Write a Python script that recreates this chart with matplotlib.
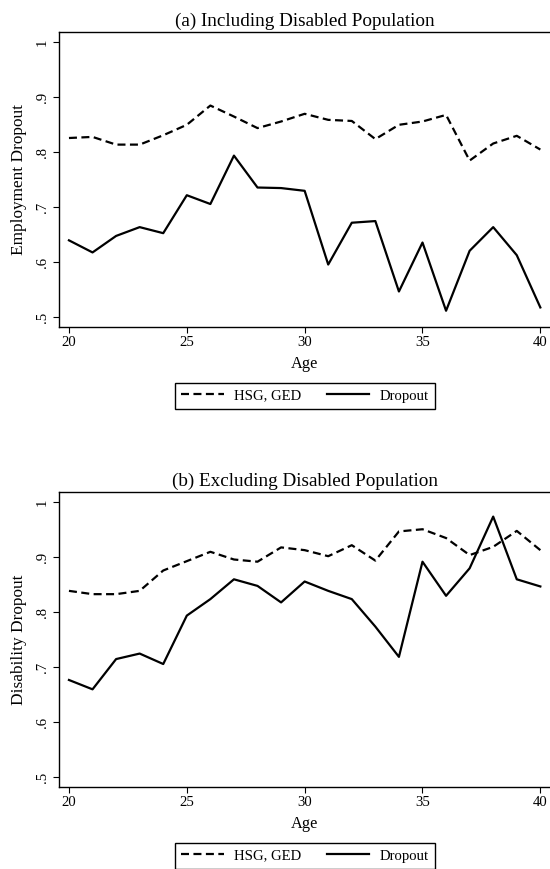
import matplotlib
matplotlib.use("Agg")
import matplotlib.pyplot as plt

plt.rcParams["font.family"] = ["Liberation Serif", "DejaVu Serif"]

# ---------------- data ----------------
ages = [20, 21, 22, 23, 24, 25, 26, 27, 28, 29, 30,
        31, 32, 33, 34, 35, 36, 37, 38, 39, 40]

# (a) including disabled population
emp_hsg = [.826, .828, .814, .814, .831, .850, .885, .865, .844, .856, .870,
           .859, .857, .824, .850, .856, .868, .785, .816, .830, .805]
emp_dropout = [.640, .618, .648, .664, .653, .722, .706, .794, .736, .735, .730,
               .596, .672, .675, .547, .636, .512, .621, .664, .613, .518]

# (b) excluding disabled population
dis_hsg = [.839, .833, .833, .839, .876, .893, .910, .896, .892, .918, .913,
           .902, .922, .894, .947, .951, .935, .904, .919, .948, .913]
dis_dropout = [.677, .660, .715, .725, .706, .794, .824, .860, .848, .818, .856,
               .839, .824, .774, .719, .892, .830, .880, .974, .860, .847]

y_ticks = [.5, .6, .7, .8, .9, 1.0]
y_ticklabels = [".5", ".6", ".7", ".8", ".9", "1"]
x_ticks = [20, 25, 30, 35, 40]

panels = [
    ("(a) Including Disabled Population", "Employment Dropout", emp_hsg, emp_dropout),
    ("(b) Excluding Disabled Population", "Disability Dropout", dis_hsg, dis_dropout),
]

W, H = 550, 869
fig = plt.figure(figsize=(W / 100, H / 100), dpi=100)

ax_left, ax_right = 59.3, 550.0
ax_h = 294.7
tops = [32.0, 492.0]

for (title, ylab, hsg, drop), top in zip(panels, tops):
    ax = fig.add_axes([ax_left / W, 1 - (top + ax_h) / H,
                       (ax_right - ax_left) / W, ax_h / H])
    l1, = ax.plot(ages, hsg, color="black", lw=1.6, ls=(0, (3.6, 2.0)),
                  label="HSG, GED")
    l2, = ax.plot(ages, drop, color="black", lw=1.6, label="Dropout")

    ax.set_xlim(19.59, 40.41)
    ax.set_ylim(0.483, 1.0187)
    ax.set_xticks(x_ticks)
    ax.set_yticks(y_ticks)
    ax.set_yticklabels(y_ticklabels, rotation=90, va="center")
    ax.tick_params(direction="out", length=4.2, width=0.8, labelsize=10.6,
                   color="black")
    ax.tick_params(axis="x", pad=2.5)
    ax.tick_params(axis="y", pad=3.5)
    for side in ["left", "bottom", "top"]:
        ax.spines[side].set_linewidth(1.0)
        ax.spines[side].set_color("black")
    ax.spines["right"].set_visible(False)

    ax.set_title(title, fontsize=13.8, pad=4.5)
    ax.set_xlabel("Age", fontsize=11.8, labelpad=5)
    ax.set_ylabel(ylab, fontsize=12.4)
    ax.yaxis.label.set_va("center")
    ax.yaxis.set_label_coords((19 - ax_left) / (ax_right - ax_left), 0.5)

    leg = ax.legend(handles=[l1, l2], ncol=2, loc="upper center",
                    bbox_to_anchor=(305 / W, 1 - (top + 350.7) / H),
                    bbox_transform=fig.transFigure, fontsize=10.6,
                    frameon=True, fancybox=False, framealpha=1,
                    edgecolor="black", borderaxespad=0, borderpad=0.45,
                    handlelength=2.9, handletextpad=0.7, columnspacing=1.7)
    leg.get_frame().set_linewidth(1.0)

fig.savefig("out.png", dpi=100)
